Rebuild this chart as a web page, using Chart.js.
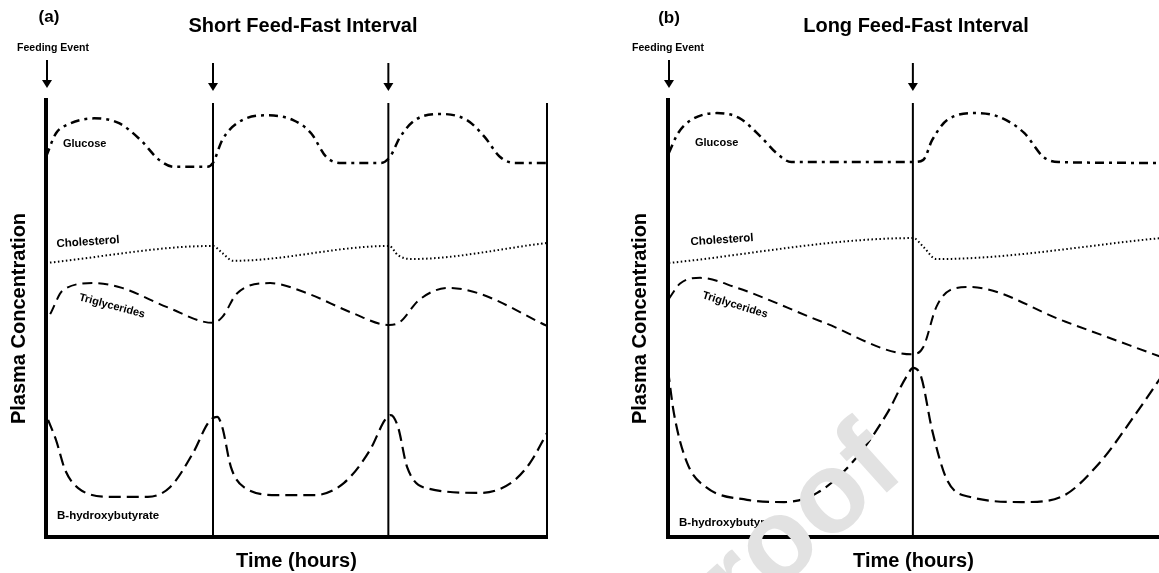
<!DOCTYPE html>
<html>
<head>
<meta charset="utf-8">
<script src="https://cdn.jsdelivr.net/npm/chart.js@4.4.1/dist/chart.umd.min.js"></script>
<style>
  html, body { margin: 0; padding: 0; background: #fff; }
  #wrap { position: relative; width: 1159px; height: 573px; }
  #chartA { position: absolute; left: 0; top: 0; }
  #chartB { position: absolute; left: 580px; top: 0; }
</style>
</head>
<body>
<div id="wrap">
  <canvas id="chartA" width="580" height="573"></canvas>
  <canvas id="chartB" width="579" height="573"></canvas>
</div>
<script>
// (a) short feed-fast interval
const feedA = [0, 4, 8.2];
const edgeA = 12;
const glucoseA_t = [0, 0.24, 0.5, 1.15, 1.75, 2.27, 2.71, 3.07, 3.86, 4.0, 4.22, 4.58, 5.25, 5.92, 6.35, 6.71, 7.07, 8.02, 8.24, 8.48, 8.84, 9.46, 10.08, 10.51, 10.87, 11.23, 12.0];
const glucoseA   = [87, 92.4, 94.3, 95.8, 94.7, 90.8, 86.3, 84.7, 84.7, 85.6, 90.8, 94.7, 96.5, 95.4, 92.4, 87.0, 85.6, 85.6, 87.0, 91.5, 95.4, 96.8, 95.4, 91.5, 87.0, 85.6, 85.6];
const cholA_t = [0, 4.0, 4.22, 4.48, 8.22, 8.43, 8.74, 12.0];
const cholA   = [62.7, 66.6, 65.0, 63.2, 66.6, 64.5, 63.6, 67.3];
const trigA_t = [0.1, 0.41, 1.15, 1.82, 2.9, 4.0, 4.22, 4.58, 5.37, 6.25, 7.33, 8.22, 8.48, 8.93, 9.63, 10.35, 12.0];
const trigA   = [51, 56.5, 58.1, 57.0, 52.6, 49.0, 50.3, 55.8, 58.1, 55.8, 51.3, 48.5, 49.2, 54.2, 57.0, 55.8, 48.3];
const bhbA_t = [0.05, 0.24, 0.46, 0.77, 1.56, 2.44, 2.97, 3.52, 3.9, 4.1, 4.22, 4.43, 4.74, 5.56, 6.44, 7.14, 7.76, 8.12, 8.26, 8.43, 8.65, 9.1, 10.42, 11.14, 11.59, 12.0];
const bhbA   = [26.8, 22.2, 15.3, 11.2, 9.2, 9.2, 11.4, 19.2, 26.3, 27.5, 25.2, 16.0, 11.4, 9.6, 9.6, 12.4, 19.9, 26.8, 27.9, 25.2, 16.0, 11.2, 10.1, 12.4, 16.9, 23.8];

// (b) long feed-fast interval
const feedB = [0, 5.86];
const glucoseB_t = [0.02, 0.24, 0.55, 1.17, 1.7, 2.23, 2.59, 2.95, 5.87, 6.11, 6.32, 6.68, 7.38, 7.93, 8.53, 8.98, 9.34, 11.8];
const glucoseB   = [87.9, 92.4, 95.4, 97.0, 95.9, 91.5, 87.9, 85.8, 85.8, 86.3, 90.8, 95.4, 97.0, 96.1, 92.4, 87.0, 85.8, 85.6];
const cholB_t = [0.02, 5.87, 6.11, 6.42, 11.8];
const cholB   = [62.7, 68.4, 66.4, 63.6, 68.4];
const trigB_t = [0.02, 0.29, 0.77, 1.6, 3.7, 5.85, 6.11, 6.42, 6.75, 7.21, 9.5, 11.8];
const trigB   = [54.5, 58.0, 59.3, 57.2, 49.2, 41.8, 43.5, 52.6, 56.5, 57.2, 49.3, 41.2];
const bhbB_t = [0, 0.14, 0.46, 0.91, 1.89, 2.78, 3.57, 4.46, 5.25, 5.7, 5.87, 6.06, 6.32, 6.68, 7.21, 8.53, 9.41, 10.32, 11.21, 11.8];
const bhbB   = [38.2, 28.4, 16.9, 11.4, 8.5, 8.0, 10.1, 17.6, 28.4, 36.6, 38.7, 36.6, 24.5, 13.0, 9.2, 8.0, 9.2, 16.9, 28.4, 36.6];

const FONT = "'Liberation Sans', Arial, sans-serif";

function series(label, t, v, dash, width) {
    return {
        label: label,
        data: t.map((x, i) => ({x: x, y: v[i]})),
        borderColor: "#000",
        borderWidth: width,
        borderDash: dash,
        pointRadius: 0,
        cubicInterpolationMode: "monotone",
        fill: false
    };
}

function scalesFor(xmax, yPadBottom) {
    return {
        x: {
            type: "linear", min: 0, max: xmax,
            grid: {display: false, drawTicks: false},
            ticks: {display: false},
            border: {display: true, width: 4, color: "#000"},
            title: {display: true, text: "Time (hours)", color: "#000",
                font: {family: FONT, size: 20, weight: "bold"}, padding: {top: 12, bottom: 0}}
        },
        y: {
            min: 0, max: 100,
            grid: {display: false, drawTicks: false},
            ticks: {display: false},
            border: {display: true, width: 4, color: "#000"},
            title: {display: true, text: "Plasma Concentration", color: "#000",
                font: {family: FONT, size: 20, weight: "bold"}, padding: {top: 4, bottom: yPadBottom}}
        }
    };
}

// feeding lines, arrows and text
function decor(opts) {
    return {
        id: "decor",
        beforeDatasetsDraw(chart) {
            const ctx = chart.ctx, xs = chart.scales.x, area = chart.chartArea;
            ctx.save();
            ctx.strokeStyle = "#000";
            ctx.lineWidth = 2;
            opts.lines.forEach(t => {
                const px = xs.getPixelForValue(t);
                ctx.beginPath();
                ctx.moveTo(px, 103);
                ctx.lineTo(px, area.bottom);
                ctx.stroke();
            });
            ctx.restore();
        },
        afterDraw(chart) {
            const ctx = chart.ctx, xs = chart.scales.x;
            ctx.save();
            ctx.fillStyle = "#000";
            ctx.strokeStyle = "#000";
            // arrows
            opts.arrows.forEach((t, i) => {
                const px = xs.getPixelForValue(t) + (i === 0 ? 1 : 0);
                const y0 = i === 0 ? 60 : 63, y1 = y0 + 28;
                ctx.lineWidth = 2;
                ctx.beginPath();
                ctx.moveTo(px, y0);
                ctx.lineTo(px, y1 - 6);
                ctx.stroke();
                ctx.beginPath();
                ctx.moveTo(px - 5, y1 - 8);
                ctx.lineTo(px + 5, y1 - 8);
                ctx.lineTo(px, y1);
                ctx.closePath();
                ctx.fill();
            });
            // texts
            ctx.textBaseline = "middle";
            opts.texts.forEach(s => {
                ctx.save();
                ctx.font = "bold " + s.size + "px " + FONT;
                ctx.textAlign = s.align || "center";
                ctx.translate(s.x, s.y);
                if (s.rot) ctx.rotate(s.rot * Math.PI / 180);
                ctx.fillText(s.text, 0, 0);
                ctx.restore();
            });
            if (opts.watermark) {
                ctx.save();
                ctx.fillStyle = "#e2e2e2";
                ctx.font = "bold 115px " + FONT;
                ctx.textBaseline = "alphabetic";
                ctx.textAlign = "left";
                ctx.translate(opts.watermark.x, opts.watermark.y);
                ctx.rotate(-42 * Math.PI / 180);
                ctx.fillText("Proof", -157, 31);
                ctx.restore();
            }
            ctx.restore();
        }
    };
}

new Chart(document.getElementById("chartA").getContext("2d"), {
    type: "line",
    data: {
        datasets: [
            series("Glucose", glucoseA_t, glucoseA, [9, 5, 3, 5], 2.5),
            series("Cholesterol", cholA_t, cholA, [1.5, 2.5], 2),
            series("Triglycerides", trigA_t, trigA, [10, 6], 2),
            series("B-hydroxybutyrate", bhbA_t, bhbA, [12, 6], 2.2)
        ]
    },
    options: {
        responsive: false,
        animation: false,
        layout: {padding: {left: 3, top: 100, right: 33, bottom: 0}},
        plugins: {legend: {display: false}, tooltip: {enabled: false}},
        scales: scalesFor(12, 15)
    },
    plugins: [decor({
        lines: [feedA[1], feedA[2], edgeA],
        arrows: feedA,
        texts: [
            {text: "(a)", x: 49, y: 17, size: 17},
            {text: "Short Feed-Fast Interval", x: 303, y: 26, size: 20},
            {text: "Feeding Event", x: 53, y: 48, size: 10.5},
            {text: "Glucose", x: 63, y: 144, size: 11, align: "left"},
            {text: "Cholesterol", x: 88, y: 242, size: 11.5, rot: -4},
            {text: "Triglycerides", x: 112, y: 306, size: 11, rot: 15},
            {text: "B-hydroxybutyrate", x: 57, y: 516, size: 11.5, align: "left"}
        ]
    })]
});

new Chart(document.getElementById("chartB").getContext("2d"), {
    type: "line",
    data: {
        datasets: [
            series("Glucose", glucoseB_t, glucoseB, [9, 5, 3, 5], 2.5),
            series("Cholesterol", cholB_t, cholB, [1.5, 2.5], 2),
            series("Triglycerides", trigB_t, trigB, [10, 6], 2),
            series("B-hydroxybutyrate", bhbB_t, bhbB, [12, 6], 2.2)
        ]
    },
    options: {
        responsive: false,
        animation: false,
        layout: {padding: {left: 44, top: 100, right: 0, bottom: 0}},
        plugins: {legend: {display: false}, tooltip: {enabled: false}},
        scales: scalesFor(11.75, 16)
    },
    plugins: [decor({
        lines: [feedB[1]],
        arrows: feedB,
        texts: [
            {text: "(b)", x: 89, y: 18, size: 17},
            {text: "Long Feed-Fast Interval", x: 336, y: 26, size: 20},
            {text: "Feeding Event", x: 88, y: 48, size: 10.5},
            {text: "Glucose", x: 115, y: 143, size: 11, align: "left"},
            {text: "Cholesterol", x: 142, y: 240, size: 11.5, rot: -4},
            {text: "Triglycerides", x: 155, y: 305, size: 11, rot: 17},
            {text: "B-hydroxybutyrate", x: 99, y: 523, size: 11.5, align: "left"}
        ],
        watermark: {x: 200, y: 547}
    })]
});
</script>
</body>
</html>
